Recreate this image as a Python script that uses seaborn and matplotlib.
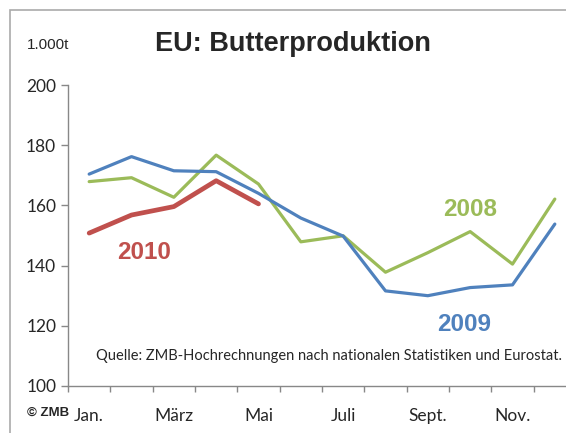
import numpy as np
import pandas as pd
import matplotlib.pyplot as plt
import seaborn as sns
from matplotlib.patches import Rectangle

# Butterproduktion EU, 1.000 t
monate = ['Jan.', 'Feb.', 'März', 'Apr.', 'Mai', 'Juni', 'Juli', 'Aug.', 'Sept.', 'Okt.', 'Nov.', 'Dez.']
werte_2008 = [167.9, 169.2, 162.7, 176.7, 167.1, 147.9, 149.9, 137.8, 144.3, 151.3, 140.5, 162.1]
werte_2009 = [170.4, 176.2, 171.5, 171.2, 164.0, 155.8, 149.8, 131.6, 130.0, 132.7, 133.6, 153.8]
werte_2010 = [150.8, 156.8, 159.6, 168.2, 160.5]

rows = []
for jahr, werte in [('2008', werte_2008), ('2009', werte_2009), ('2010', werte_2010)]:
    for i, v in enumerate(werte):
        rows.append({'monat': i, 'wert': v, 'jahr': jahr})
df = pd.DataFrame(rows)

farben = {'2008': '#9BBB59', '2009': '#4F81BD', '2010': '#C0504D'}
breiten = {'2008': 2.3, '2009': 2.3, '2010': 3.4}

sns.set_style('white')
plt.rcParams['font.family'] = ['Lato', 'DejaVu Sans']

fig = plt.figure(figsize=(5.66, 4.33), dpi=100)
ax = fig.add_axes([68/566, 1 - 386/433, 508/566, 301/433])

for jahr in ['2008', '2009', '2010']:
    sns.lineplot(data=df[df['jahr'] == jahr], x='monat', y='wert', color=farben[jahr],
                 linewidth=breiten[jahr], ax=ax, legend=False)

ax.set_xlim(-0.5, 11.5)
ax.set_ylim(100, 200)
ax.set_yticks(np.arange(100, 201, 20))
ax.set_xticks(np.arange(-0.5, 12, 1))
ax.set_xticklabels([])
ax.set_xticks(np.arange(0, 12, 2), minor=True)
ax.set_xticklabels(monate[::2], minor=True)
ax.tick_params(axis='x', which='major', direction='out', length=4, color='#888888', width=1, bottom=True)
ax.tick_params(axis='x', which='minor', length=0, labelsize=12.5, pad=16)
ax.tick_params(axis='y', direction='out', length=5, color='#888888', width=1, left=True, labelsize=12.5)
ax.set_xlabel('')
ax.set_ylabel('')
sns.despine(ax=ax)
for s in ['left', 'bottom']:
    ax.spines[s].set_color('#888888')
    ax.spines[s].set_linewidth(1)

# Jahresbeschriftungen
ax.text(9.0, 158.5, '2008', color=farben['2008'], fontsize=17.5, fontweight='bold',
        family='Liberation Sans', ha='center', va='center')
ax.text(8.85, 120.5, '2009', color=farben['2009'], fontsize=17.5, fontweight='bold',
        family='Liberation Sans', ha='center', va='center')
ax.text(1.3, 144.5, '2010', color=farben['2010'], fontsize=17.5, fontweight='bold',
        family='Liberation Sans', ha='center', va='center')

ax.text(5.67, 110, 'Quelle: ZMB-Hochrechnungen nach nationalen Statistiken und Eurostat.',
        fontsize=10.5, ha='center', va='center')

fig.text(293/566, 1 - 44/433, 'EU: Butterproduktion', fontsize=19.5, fontweight='bold',
         family='Liberation Sans', ha='center', va='center')
fig.text(48/566, 1 - 45/433, '1.000t', fontsize=11, family='Liberation Sans', ha='center', va='center')
fig.text(48/566, 1 - 413/433, '© ZMB', fontsize=9.5, fontweight='bold', family='Liberation Sans',
         ha='center', va='center')

# Rahmen des Diagramms
fig.patches.append(Rectangle((10/566, -0.1), 1.2, 1 - 10/433 + 0.1, transform=fig.transFigure,
                             fill=False, edgecolor='#AAAAAA', linewidth=1.2))

fig.savefig('out.png', dpi=100)
